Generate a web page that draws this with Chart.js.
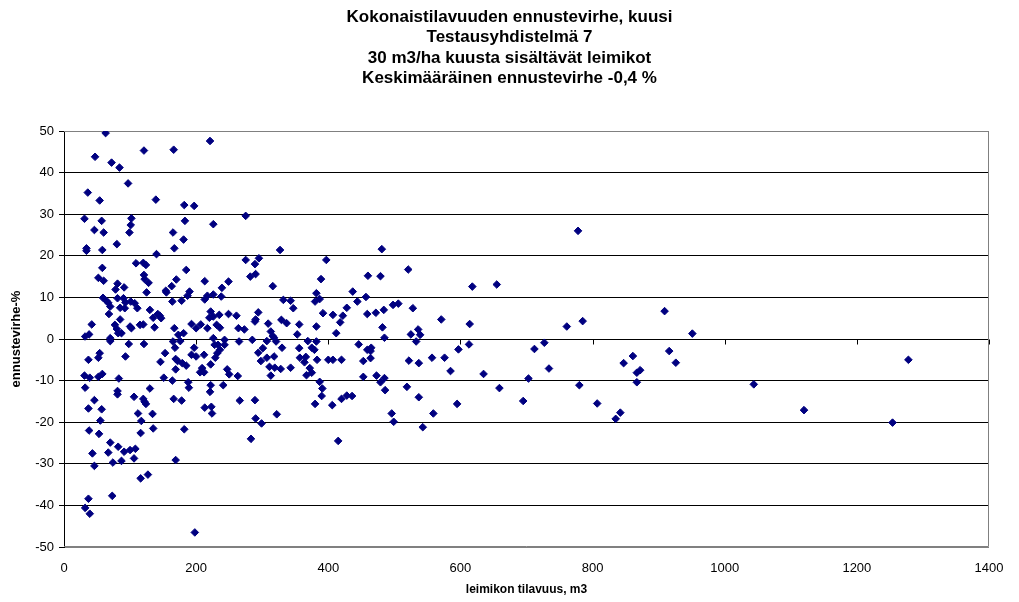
<!DOCTYPE html>
<html>
<head>
<meta charset="utf-8">
<script src="https://cdn.jsdelivr.net/npm/chart.js@4.4.1/dist/chart.umd.min.js"></script>
<style>
  html, body { margin: 0; padding: 0; background: #fff; }
  #wrap { width: 1019px; height: 602px; }
</style>
</head>
<body>
<div id="wrap"><canvas id="chart" width="1019" height="602"></canvas></div>
<script>
// leimikon tilavuus (m3) ja ennustevirhe (%), luettu kuvasta
const volumes = [
  63, 47, 121, 166, 72, 84, 97, 36, 54, 139, 182, 197, 31, 57, 102, 101, 99, 183, 46, 60,
  165, 181, 34, 34, 58, 80, 167, 140, 109, 120, 124, 58, 185, 52, 60, 121, 122, 128, 170, 163,
  81, 91, 78, 125, 154, 155, 190, 187, 59, 67, 64, 70, 68, 81, 90, 93, 85, 92, 101, 107,
  111, 130, 142, 145, 135, 147, 164, 178, 42, 85, 77, 80, 82, 87, 100, 102, 115, 120, 137, 32,
  38, 70, 167, 173, 181, 193, 200,
  70, 98, 121, 165, 176, 168, 197, 37, 54, 52, 93, 146, 153, 169, 172, 179, 185, 169, 193, 200,
  206, 31, 39, 52, 58, 83, 151, 164, 32, 81, 81, 46, 106, 120, 122, 124, 130, 166, 178, 188,
  189, 37, 57, 112, 117, 134, 55, 38, 53, 116, 135, 182, 70, 67, 82, 91, 100, 108, 106, 87,
  74, 43, 46, 169, 116, 127, 37, 73, 32, 39, 198,
  221, 275, 226, 327, 275, 289, 295, 397, 282, 290, 213, 249, 239, 316, 389, 213, 217, 226, 238, 332,
  343, 347, 382, 380, 387, 392, 407, 222, 220, 226, 235, 249, 261, 294, 289, 290, 309, 329, 337, 356,
  382, 207, 217, 231, 236, 264, 273, 313, 316, 353,
  226, 243, 243, 233, 228, 236, 232, 229, 222, 212, 209, 212, 247, 250, 263, 265, 285, 307, 318, 321,
  294, 301, 298, 307, 318, 330, 311, 319, 328, 313, 343, 356, 369, 382, 375, 379, 357, 366, 364, 383,
  372, 367, 375, 400, 407, 222, 221, 241, 213, 223, 224, 266, 289, 290, 299, 322, 283, 387, 391, 390,
  380, 406,
  481, 460, 479, 521, 437, 444, 457, 428, 422, 418, 412, 459, 472, 484, 498, 506, 528, 482, 485, 525,
  536, 539, 571, 614,
  533, 446, 459, 465, 464, 420, 453, 464, 522, 537, 557, 576, 585, 597, 613, 453, 473, 479, 485, 486,
  420, 428, 436, 415, 496, 499, 519, 537, 559, 543, 595,
  778, 618, 655, 761, 785, 909, 951, 635, 659, 712, 727, 734, 703, 695, 780, 807, 847, 861, 867, 872,
  867, 916, 926, 842, 835,
  1278, 1044, 1120, 1254
];
const errors = [
  49.5, 43.8, 45.3, 45.5, 42.4, 41.2, 37.4, 35.2, 33.3, 33.5, 32.2, 32.0, 28.9, 28.4, 29.0, 27.4, 25.6, 28.4, 26.2, 25.6,
  25.6, 23.9, 21.8, 21.2, 21.4, 22.8, 21.8, 20.4, 18.2, 18.3, 17.8, 17.1, 16.6, 14.7, 14.0, 15.4, 14.4, 13.5, 14.3, 12.7,
  13.3, 12.4, 11.9, 11.2, 11.6, 11.2, 11.4, 10.4, 9.9, 8.7, 9.2, 7.8, 6.0, 9.8, 9.8, 8.8, 7.5, 7.4, 9.0, 8.6,
  7.4, 7.0, 6.0, 5.6, 5.1, 5.0, 9.0, 9.2, 3.5, 4.7, 3.4, 2.4, 1.4, 1.4, 3.0, 2.6, 3.4, 3.5, 2.8, 0.6,
  1.1, 0.2, 2.6, 1.0, 1.4, 3.6, 2.6,
  -0.5, -1.2, -1.2, -0.6, -0.5, -2.1, -2.1, -5.0, -3.4, -4.5, -4.2, -5.5, -3.4, -4.8, -5.3, -5.8, -6.4, -7.3, -3.8, -4.2,
  -8.0, -8.8, -9.3, -9.1, -8.4, -9.5, -9.3, -10.0, -11.7, -12.5, -13.3, -14.7, -13.9, -14.4, -15.1, -15.6, -11.9, -14.4, -14.8, -10.4,
  -11.7, -16.7, -16.9, -17.9, -19.7, -18.0, -19.6, -22.0, -22.8, -22.6, -21.5, -21.7, -24.9, -27.3, -25.9, -27.1, -26.7, -26.4, -28.7, -29.3,
  -29.7, -27.5, -30.5, -29.1, -33.5, -32.6, -38.4, -37.7, -40.6, -42.0, -46.5,
  47.6, 29.6, 27.6, 21.4, 19.0, 18.0, 19.4, 19.0, 15.0, 15.6, 13.9, 13.8, 12.3, 12.7, 14.4, 9.5, 10.4, 10.7, 10.2, 9.4,
  9.2, 7.4, 11.0, 9.0, 9.6, 6.2, 5.8, 6.6, 5.1, 5.4, 5.8, 6.0, 5.6, 6.4, 4.2, 4.7, 3.7, 4.6, 3.8, 3.5,
  3.0, 3.5, 2.6, 3.4, 2.7, 2.6, 2.3, 1.8, 0.7, 1.1,
  0.2, -0.2, -1.4, -1.4, -1.4, -2.6, -3.4, -4.5, -6.1, -3.8, -7.0, -8.0, -7.3, -8.5, -8.9, -0.6, -0.2, -0.5, 0.3, -0.6,
  -3.3, -2.2, -5.3, -4.5, -4.2, -2.1, -6.7, -6.9, -7.2, -8.8, -6.9, -2.2, -0.5, -0.6, -2.1, -2.6, -4.5, -4.3, -5.6, -5.0,
  -7.0, -8.7, -8.1, -5.0, -5.0, -11.1, -12.7, -11.1, -16.5, -16.3, -17.9, -14.8, -14.7, -19.1, -20.3, -18.1, -24.0, -10.3, -11.9, -13.7,
  -15.6, -15.9,
  21.6, 15.2, 15.1, 16.7, 11.4, 9.0, 10.1, 7.5, 5.6, 4.0, 1.4, 6.0, 6.3, 7.0, 8.2, 8.5, 7.4, 2.8, 0.3, 1.1,
  2.3, 1.0, 4.7, 3.6,
  -0.6, -1.3, -2.6, -2.1, -2.9, -5.0, -5.3, -4.6, -5.2, -5.8, -4.5, -4.5, -7.7, -2.5, -1.3, -9.1, -8.8, -10.4, -9.4, -12.3,
  -14.4, -13.6, -13.7, -24.5, -17.9, -19.9, -11.5, -14.0, -17.9, -21.2, -15.6,
  26.0, 12.6, 13.1, 3.0, 4.3, 6.7, 1.3, -8.4, -11.8, -2.4, -0.9, -7.1, -9.5, -14.9, -11.1, -15.5, -5.8, -4.1, -8.1, -7.5,
  -10.4, -2.9, -5.7, -17.7, -19.2,
  -5.0, -10.9, -17.1, -20.1
];
const titleLines = [
  'Kokonaistilavuuden ennustevirhe, kuusi',
  'Testausyhdistelmä 7',
  '30 m3/ha kuusta sisältävät leimikot',
  'Keskimääräinen ennustevirhe -0,4 %'
];

const points = volumes.map((v, i) => ({ x: v, y: errors[i] }));
const FONT = "'Liberation Sans', Arial, sans-serif";

// harmaa kehys ja pienet jakoviivat nollaviivalla (Excel-tyyli)
const frame = {
  id: 'frame',
  beforeDatasetsDraw(chart) {
    const { ctx, chartArea: a, scales } = chart;
    ctx.save();
    ctx.strokeStyle = '#808080';
    ctx.lineWidth = 1;
    ctx.beginPath();
    ctx.moveTo(a.left, a.top + 0.5);
    ctx.lineTo(a.right - 0.5, a.top + 0.5);
    ctx.lineTo(a.right - 0.5, a.bottom - 0.5);
    ctx.lineTo(a.left, a.bottom - 0.5);
    ctx.stroke();
    const y0 = Math.round(scales.y.getPixelForValue(0)) + 0.5;
    ctx.strokeStyle = '#000';
    ctx.beginPath();
    scales.x.ticks.forEach(t => {
      const x = Math.round(scales.x.getPixelForValue(t.value)) + 0.5;
      ctx.moveTo(x, y0);
      ctx.lineTo(x, y0 + 5);
    });
    ctx.stroke();
    ctx.restore();
  }
};

new Chart(document.getElementById('chart'), {
  type: 'scatter',
  data: {
    datasets: [{
      data: points,
      pointStyle: 'rectRot',
      pointRadius: 3.8,
      pointBorderWidth: 1,
      backgroundColor: '#000080',
      borderColor: '#000080'
    }]
  },
  options: {
    responsive: false,
    animation: false,
    layout: { padding: 0 },
    plugins: {
      legend: { display: false },
      tooltip: { enabled: false },
      title: {
        display: true,
        text: titleLines,
        color: '#000',
        font: { family: FONT, size: 17, weight: 'bold', lineHeight: 1.2 },
        padding: { top: 7, bottom: 42.4 }
      }
    },
    scales: {
      x: {
        type: 'linear',
        min: 0,
        max: 1400,
        ticks: {
          stepSize: 200,
          color: '#000',
          padding: 14,
          font: { family: FONT, size: 13 },
          callback: v => String(v)
        },
        grid: { display: false, drawTicks: false },
        border: { display: false },
        title: {
          display: true,
          text: 'leimikon tilavuus, m3',
          color: '#000',
          font: { family: FONT, size: 12, weight: 'bold' },
          padding: { top: 0, bottom: 5 }
        },
        afterFit(scale) { scale.height = 55; }
      },
      y: {
        min: -50,
        max: 50,
        ticks: { stepSize: 10, color: '#000', padding: 5, font: { family: FONT, size: 13 } },
        grid: {
          color: c => (c.tick && Math.abs(c.tick.value) === 50) ? '#808080' : '#000',
          tickColor: '#000',
          tickLength: 5,
          lineWidth: 1
        },
        border: { color: '#000' },
        title: {
          display: true,
          text: 'ennustevirhe-%',
          color: '#000',
          font: { family: FONT, size: 13, weight: 'bold' },
          padding: { top: 9, bottom: 0 }
        },
        afterFit(scale) { scale.width = 64; }
      },
      // tyhjä tila oikealla, jotta otsikko keskittyy koko kuvaan
      yRight: {
        position: 'right',
        min: -50,
        max: 50,
        ticks: { display: false },
        grid: { display: false, drawTicks: false },
        border: { display: false },
        afterFit(scale) { scale.width = 30; }
      }
    }
  },
  plugins: [frame]
});
</script>
</body>
</html>
